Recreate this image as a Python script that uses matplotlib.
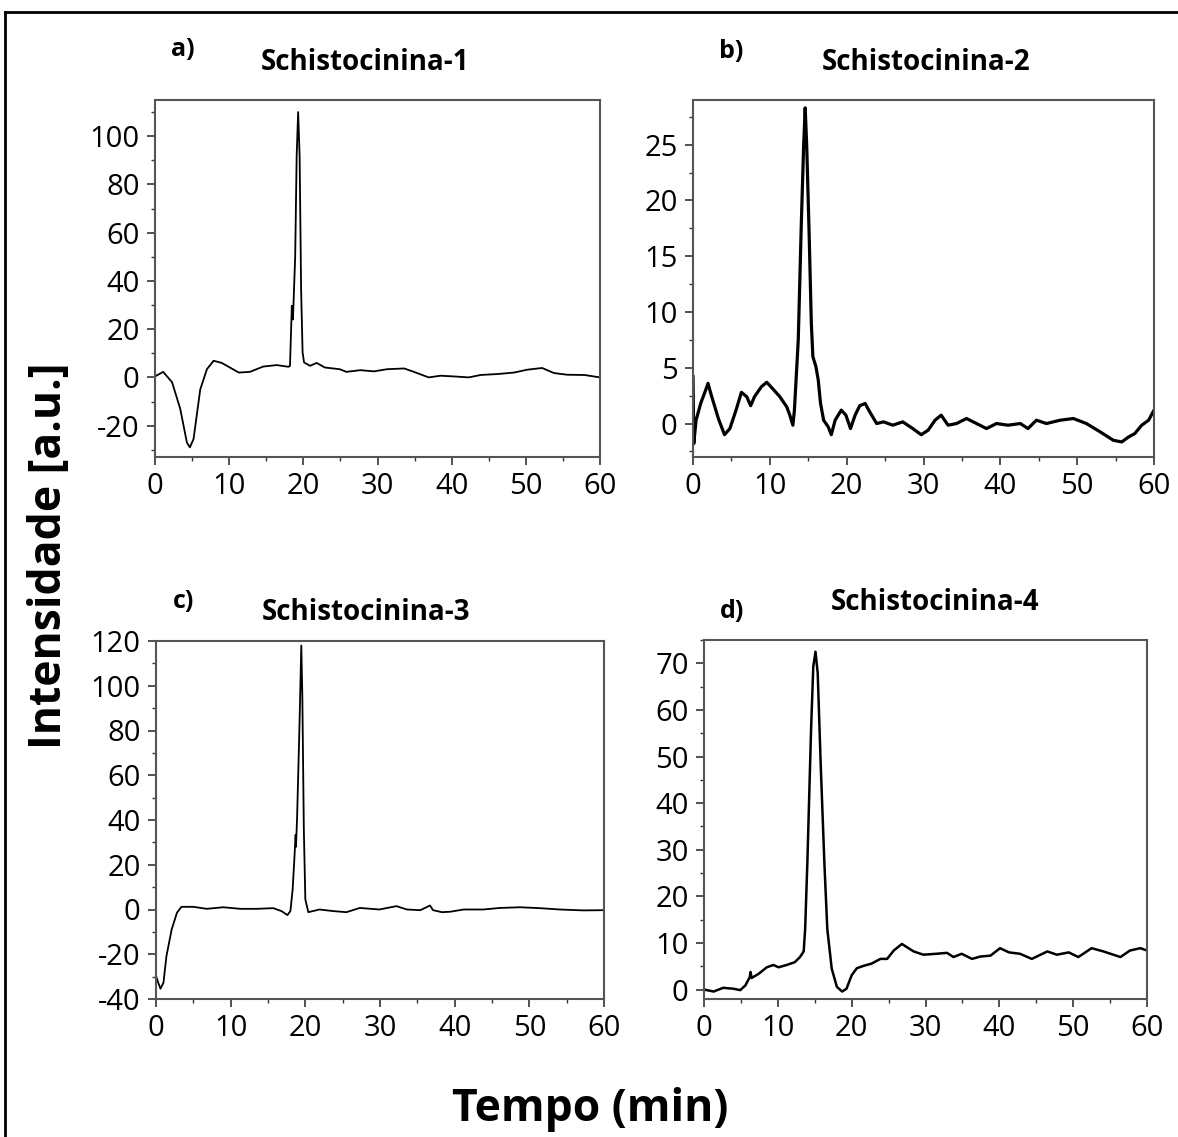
import matplotlib
matplotlib.use("Agg")
import matplotlib.pyplot as plt
from matplotlib.lines import Line2D
from matplotlib.ticker import MultipleLocator

plt.rcParams['font.family'] = ['Open Sans', 'DejaVu Sans']
plt.rcParams['axes.unicode_minus'] = False

t1 = [0, 1.1, 2.3, 3.4, 4.3, 4.7, 5.2, 6.1, 7.0, 7.9, 9.0, 10.1, 11.3, 12.8, 14.6, 16.4,
      18.0, 18.2, 18.45, 18.6, 18.9, 19.1, 19.3, 19.5, 19.7, 19.9, 20.1, 20.9, 21.8, 22.9,
      24.9, 25.8, 27.7, 29.5, 31.3, 33.6, 34.9, 36.9, 38.5, 40.3, 42.3, 43.9, 46.2, 48.4,
      50.2, 52.2, 53.8, 55.6, 57.9, 60]
y1 = [0.4, 2.3, -2, -13, -27, -29, -25.5, -5, 3.4, 6.9, 6, 4.1, 2, 2.3, 4.5, 5.1,
      4.4, 4.8, 29.7, 24, 50, 91.7, 110, 91.7, 36.5, 10.3, 6.2, 4.8, 6, 4.1,
      3.4, 2.3, 3, 2.5, 3.4, 3.7, 2.3, 0, 0.7, 0.4, 0, 1, 1.4, 2,
      3.2, 3.9, 1.8, 1.1, 1, 0]

t2 = [0, 0.1, 0.4, 1, 1.7, 1.95, 2.4, 3.3, 4.1, 4.8, 5.6, 6.3, 7.0, 7.5, 8.0, 8.9, 9.6,
      10.4, 11.3, 12.2, 12.6, 13.0, 13.2, 13.7, 14.1, 14.4, 14.6, 14.8, 15.1, 15.4, 15.6,
      16.0, 16.3, 16.6, 17.0, 17.6, 18.0, 18.5, 19.3, 19.9, 20.5, 21.1, 21.7, 22.4, 23.0,
      23.9, 24.8, 26.0, 27.3, 28.6, 29.7, 30.6, 31.5, 32.3, 33.2, 34.3, 35.6, 36.9, 38.2,
      39.5, 41.0, 42.6, 43.6, 44.7, 46.0, 47.8, 49.5, 51.2, 53.0, 54.7, 55.8, 56.7, 57.5,
      58.4, 59.3, 60]
y2 = [4.2, -1.8, 0.3, 1.8, 3.1, 3.6, 2.5, 0.45, -1, -0.45, 1.2, 2.8, 2.4, 1.6, 2.4, 3.3, 3.7,
      3.1, 2.4, 1.5, 0.75, -0.15, 1.2, 7.5, 18, 24.9, 28.3, 24.9, 17.4, 9, 6,
      5.1, 3.9, 1.8, 0.3, -0.3, -1, 0.3, 1.2, 0.75, -0.45, 0.75, 1.6, 1.8, 1.05,
      0, 0.15, -0.15, 0.15, -0.45, -1, -0.6, 0.3, 0.75, -0.15, 0, 0.45, 0, -0.45,
      0, -0.15, 0, -0.45, 0.3, 0, 0.3, 0.45, 0, -0.75, -1.5, -1.65, -1.2, -0.9,
      -0.15, 0.3, 1.2]

t3 = [0, 0.3, 0.6, 1.0, 1.4, 2.1, 2.8, 3.4, 5.0, 6.8, 9.0, 11.3, 13.5, 15.7, 16.8, 17.6,
      18.0, 18.3, 18.5, 18.7, 18.75, 18.9, 19.2, 19.46, 19.6, 19.8, 20.0, 20.4, 21.9, 23.7,
      25.5, 27.3, 29.9, 32.2, 33.6, 35.4, 36.7, 37.1, 38.3, 39.4, 41.2, 43.8, 46.1, 48.8,
      51.4, 54.1, 57.2, 60]
y3 = [-29.7, -32.7, -35.4, -32.7, -20.8, -8.9, -1.5, 1.2, 1.2, 0.3, 1, 0.3, 0.3, 0.6, -0.7, -2.5,
      -0.7, 8.9, 20.8, 33.4, 28, 41.6, 80, 118, 95, 35.7, 4.5, -1.2, 0, -0.7,
      -1.2, 0.7, 0, 1.5, 0, -0.3, 1.8, -0.3, -1.2, -1, 0, 0, 0.7, 1,
      0.6, 0, -0.4, -0.3]

t4 = [0.1, 1.3, 2.6, 4.0, 4.9, 5.6, 6.2, 6.3, 6.45, 7.4, 8.5, 9.4, 10.1, 11.2, 12.3, 13.0,
      13.5, 13.7, 14.0, 14.5, 14.8, 15.1, 15.4, 15.8, 16.3, 16.7, 17.3, 18.0, 18.7, 19.3,
      20.0, 20.7, 21.6, 22.7, 23.9, 24.8, 25.7, 26.8, 27.5, 28.4, 29.7, 31.5, 32.9, 33.8,
      34.9, 36.3, 37.4, 38.8, 40.1, 41.3, 42.8, 44.4, 46.5, 47.8, 49.4, 50.7, 52.5, 54.1,
      56.4, 57.7, 59.1, 60]
y4 = [0, -0.4, 0.4, 0.2, -0.1, 0.9, 2.7, 3.8, 2.5, 3.4, 4.8, 5.3, 4.8, 5.3, 5.9, 7,
      8.2, 13, 27.3, 55.8, 69.3, 72.5, 67.9, 48.6, 27.3, 13, 4.5, 0.6, -0.4, 0.2,
      3.1, 4.6, 5.1, 5.6, 6.6, 6.6, 8.4, 9.8, 9.1, 8.2, 7.5, 7.7, 7.9, 7,
      7.7, 6.6, 7.1, 7.3, 8.9, 8, 7.7, 6.6, 8.2, 7.5, 8, 7, 8.9, 8.2,
      7, 8.4, 8.9, 8.4]

letras = ['a)', 'b)', 'c)', 'd)']
titulos = ['Schistocinina-1', 'Schistocinina-2', 'Schistocinina-3', 'Schistocinina-4']
series = [(t1, y1), (t2, y2), (t3, y3), (t4, y4)]
y_ticks = [range(-20, 101, 20), range(0, 26, 5), range(-40, 121, 20), range(0, 71, 10)]
y_lims = [(-33, 115), (-3, 29), (-40, 120), (-2, 75)]
y_minor = [10, 2.5, 10, 5]

W, H = 1178, 1137
fig = plt.figure(figsize=(W / 100, H / 100), dpi=100)

# caixas dos eixos em pixels: esquerda, direita, topo, base
caixas = [(155, 600, 100, 457), (693, 1154, 100, 457), (156, 604, 641, 999), (704, 1147, 640, 999)]
larguras = [1.3, 2.3, 1.3, 1.8]
pos_letra = [(183, 50), (731, 52), (184, 602), (732, 611)]
pos_titulo = [(365, 62), (926, 62), (366, 612), (935, 603)]

for i in range(4):
    l, r, t, b = caixas[i]
    ax = fig.add_axes([l / W, 1 - b / H, (r - l) / W, (b - t) / H])
    ax.plot(series[i][0], series[i][1], color='black', lw=larguras[i])
    ax.set_xlim(0, 60)
    ax.set_ylim(*y_lims[i])
    ax.set_xticks(range(0, 61, 10))
    ax.set_yticks(list(y_ticks[i]))
    ax.xaxis.set_minor_locator(MultipleLocator(5))
    ax.yaxis.set_minor_locator(MultipleLocator(y_minor[i]))
    ax.tick_params(which='major', direction='out', length=6, width=1.2, labelsize=21,
                   pad=5, color='#333333')
    ax.tick_params(which='minor', direction='out', length=3, width=1, color='#333333')
    for s in ax.spines.values():
        s.set_color('#555555')
        s.set_linewidth(1.5)
    fig.text(pos_letra[i][0] / W, 1 - pos_letra[i][1] / H, letras[i], fontsize=18,
             fontweight='bold', ha='center', va='center')
    fig.text(pos_titulo[i][0] / W, 1 - pos_titulo[i][1] / H, titulos[i], fontsize=20,
             fontweight='bold', ha='center', va='center')

fig.text(50 / W, 1 - 556 / H, 'Intensidade [a.u.]', rotation=90, fontsize=32,
         fontweight='bold', ha='center', va='center')
fig.text(590 / W, 1 - 1110 / H, 'Tempo (min)', fontsize=32, fontweight='bold',
         ha='center', va='center')

# moldura (apenas topo e lado esquerdo visíveis)
fig.add_artist(Line2D([5 / W, 1], [1 - 12 / H, 1 - 12 / H], color='black', lw=2))
fig.add_artist(Line2D([5 / W, 5 / W], [0, 1 - 12 / H], color='black', lw=2))

fig.savefig('out.png', dpi=100)
